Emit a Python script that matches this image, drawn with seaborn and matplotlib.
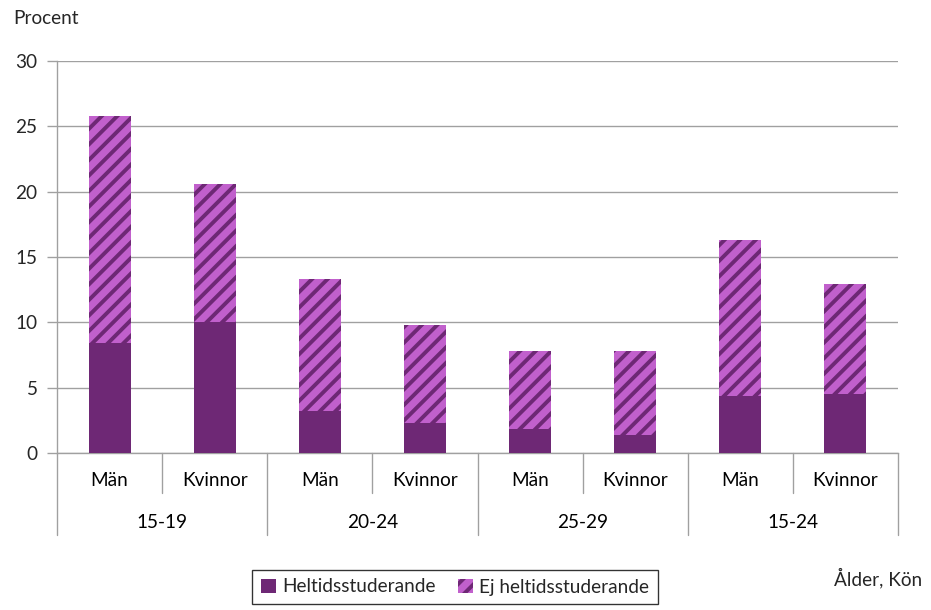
import matplotlib
matplotlib.use("Agg")
import matplotlib.pyplot as plt
import seaborn as sns
import pandas as pd
import numpy as np
from matplotlib.patches import Patch

# ---- data ----
age_groups = ["15-19", "20-24", "25-29", "15-24"]
genders = ["Män", "Kvinnor"]
heltid = [8.4, 10.0, 3.2, 2.3, 1.8, 1.4, 4.4, 4.5]
ej_heltid = [17.4, 10.6, 10.1, 7.5, 6.0, 6.4, 11.9, 8.4]
y_ticks = [0, 5, 10, 15, 20, 25, 30]

DARK = "#6E2875"
LIGHT = "#C160CC"
GRID = "#A0A0A0"
FONT = "Lato"
FS = 9.8

sns.set_theme(style="white")
plt.rcParams["font.family"] = [FONT, "DejaVu Sans"]
plt.rcParams["hatch.linewidth"] = 2.0
plt.rcParams["hatch.color"] = DARK

DPI = 140
fig = plt.figure(figsize=(931 / DPI, 610 / DPI), dpi=DPI)
ax = fig.add_axes([57 / 931, 1 - 453 / 610, 841 / 931, 392 / 610])

labels = [f"{g}|{a}" for a in age_groups for g in genders]
df = pd.DataFrame({
    "cat": labels,
    "heltid": heltid,
    "ej": ej_heltid,
})
df["total"] = df["heltid"] + df["ej"]

sns.barplot(data=df, x="cat", y="total", color=LIGHT, width=0.4, ax=ax,
            saturation=1, hatch="///", edgecolor=DARK, linewidth=0, zorder=3)
sns.barplot(data=df, x="cat", y="heltid", color=DARK, width=0.4, ax=ax,
            saturation=1, linewidth=0, zorder=4)

ax.set_xlim(-0.5, len(labels) - 0.5)
ax.set_ylim(0, 30)
ax.set_yticks(y_ticks)
ax.set_yticklabels([str(t) for t in y_ticks], fontsize=FS)
ax.yaxis.grid(True, color=GRID, linewidth=0.7, zorder=0)
ax.set_axisbelow(True)
ax.tick_params(axis="y", length=5, width=0.7, color=GRID, pad=5, left=True)
ax.set_xticks([])
ax.set_xlabel("")
ax.set_ylabel("")
for s in ["top", "right"]:
    ax.spines[s].set_visible(False)
for s in ["left", "bottom"]:
    ax.spines[s].set_color(GRID)
    ax.spines[s].set_linewidth(0.7)
ax.spines["left"].set_bounds(0, 30)

tr = ax.get_xaxis_transform()
short = -40 / 392
long_ = -82 / 392
for i in range(len(labels) + 1):
    x = i - 0.5
    y1 = long_ if i % 2 == 0 else short
    ax.plot([x, x], [0, y1], transform=tr, color=GRID, linewidth=0.7,
            clip_on=False, zorder=5)
for i, lab in enumerate(labels):
    g, a = lab.split("|")
    ax.text(i, -27 / 392, g, transform=tr, ha="center", va="center",
            fontsize=FS, color="black")
for j, a in enumerate(age_groups):
    ax.text(2 * j + 0.5, -69 / 392, a, transform=tr, ha="center",
            va="center", fontsize=FS, color="black")

fig.text(13 / 931, 1 - 18 / 610, "Procent", ha="left", va="center",
         fontsize=FS)
fig.text(922 / 931, 1 - 578 / 610, "Ålder, Kön", ha="right", va="center",
         fontsize=FS)

handles = [Patch(facecolor=DARK, edgecolor=DARK, linewidth=0),
           Patch(facecolor=LIGHT, edgecolor=DARK, hatch="///", linewidth=0)]
leg = fig.legend(handles, ["Heltidsstuderande", "Ej heltidsstuderande"],
                 loc="center", bbox_to_anchor=(455 / 931, 1 - 587 / 610),
                 ncol=2, frameon=True, fancybox=False, fontsize=FS,
                 handlelength=0.8, handleheight=0.8, handletextpad=0.3,
                 columnspacing=1.2, borderpad=0.45)
leg.get_frame().set_edgecolor("black")
leg.get_frame().set_linewidth(0.7)

fig.savefig("out.png", dpi=DPI)
